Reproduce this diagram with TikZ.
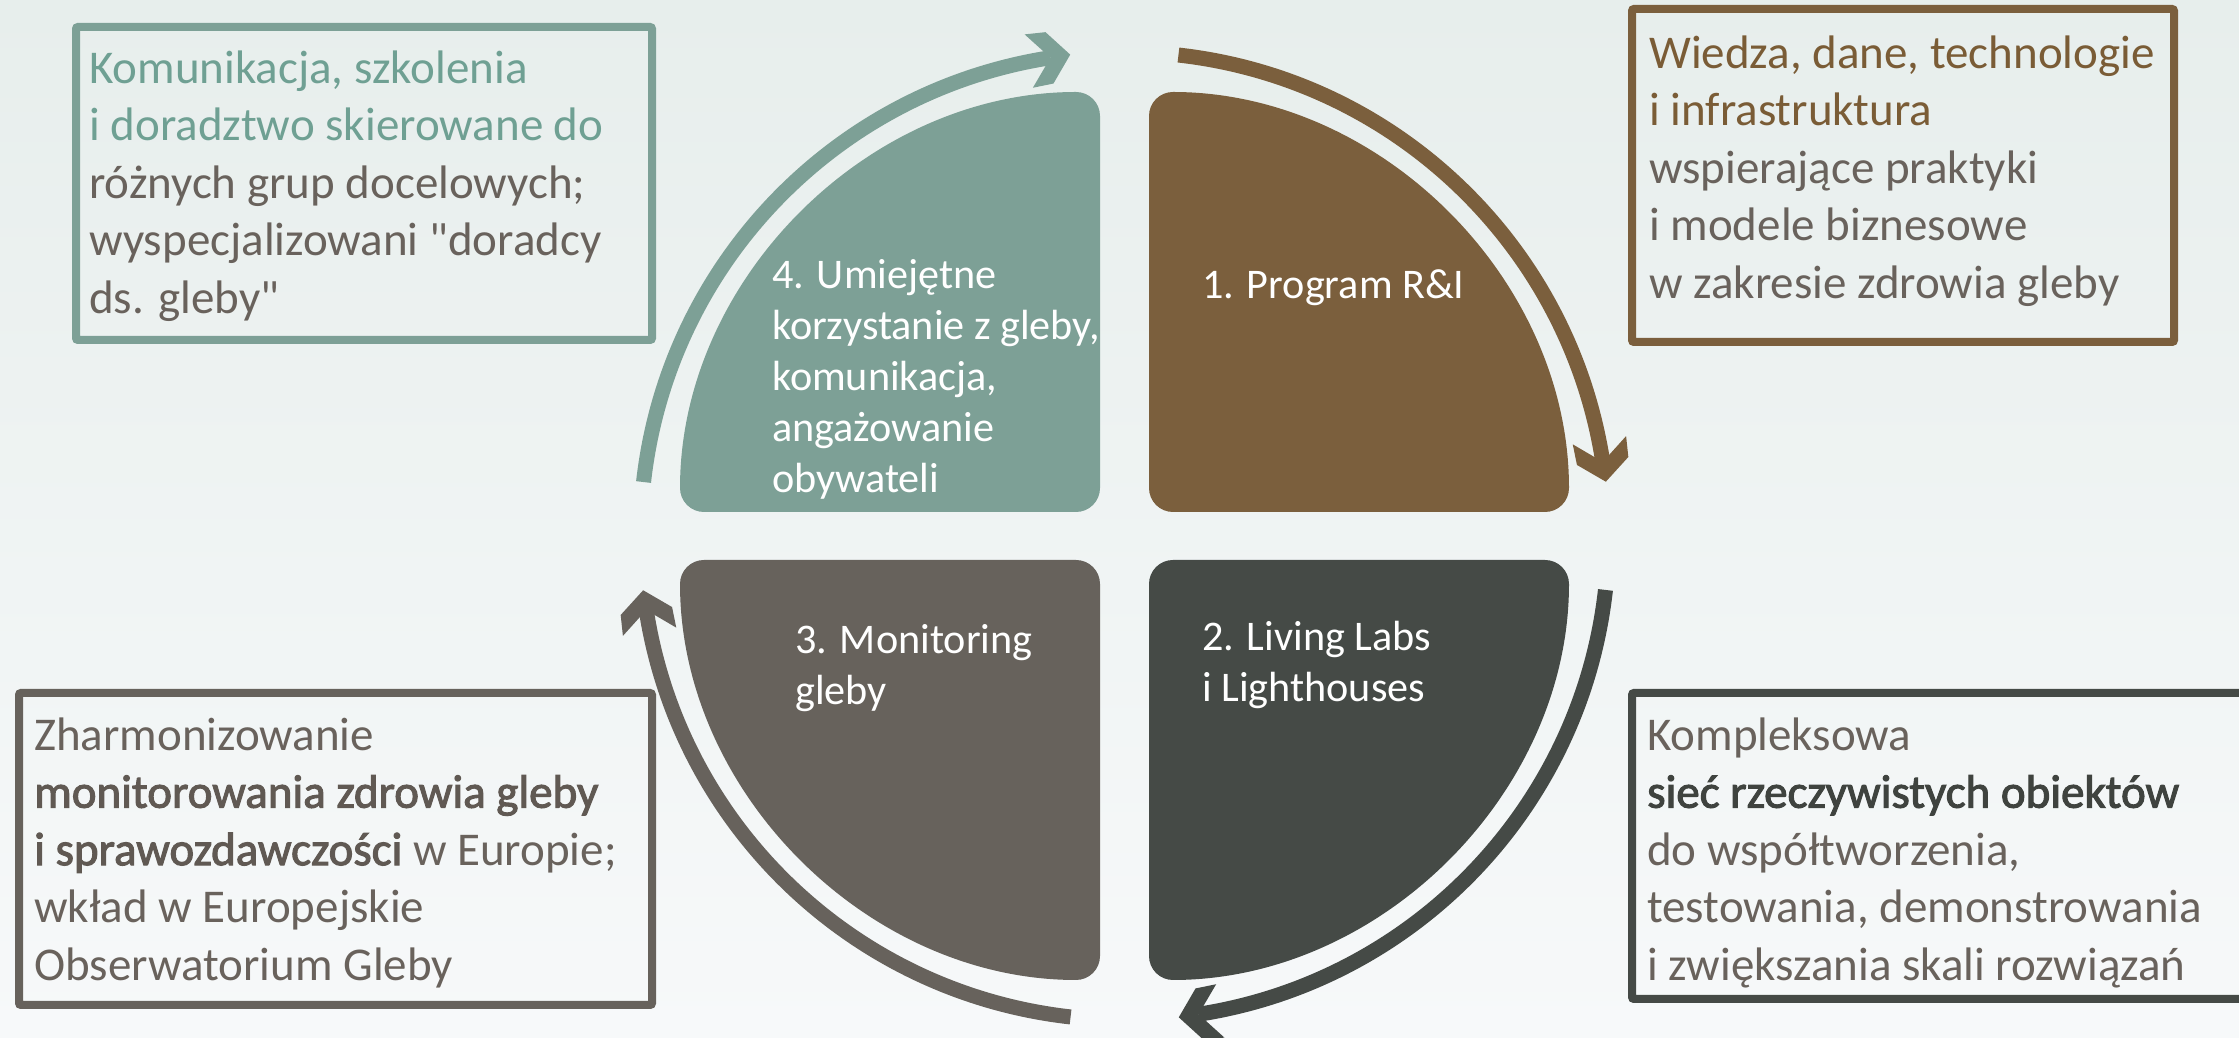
\documentclass[tikz,border=0pt]{standalone}
\usepackage{fontspec}
\setmainfont{Carlito}
\newfontfamily\qfont{Carlito}
\newfontfamily\fbold{Carlito}[FakeBold=2.2]
\usetikzlibrary{calc}
\definecolor{bgtop}{HTML}{E7EEEC}
\definecolor{bgbot}{HTML}{F7F9FA}
\definecolor{qteal}{HTML}{7DA096}
\definecolor{qbrown}{HTML}{7B5F3D}
\definecolor{qgray}{HTML}{67625C}
\definecolor{qdark}{HTML}{454A46}
\definecolor{tealtext}{HTML}{6FA093}
\definecolor{browntext}{HTML}{7A5C36}
\definecolor{greytext}{HTML}{69625C}
\definecolor{boldgrey}{HTML}{605953}
\definecolor{darktext}{HTML}{3F433F}
\newcommand{\sq}{{\qfont"}}
\tikzset{
  infobox/.style={draw, line width=8pt, rounded corners=2pt, inner sep=0pt, anchor=south west},
  boxtext/.style={anchor=north west, inner sep=0pt, align=left, text=greytext,
    font={\fontsize{47}{57.5}\selectfont}},
  quadtext/.style={anchor=north west, inner sep=0pt, align=left, text=white,
    font={\fontsize{42.2}{51}\selectfont}},
  quad/.style={rounded corners=24pt},
  shaft/.style={line width=15pt},
}
\begin{document}
\begin{tikzpicture}[x=1pt,y=1pt]
\useasboundingbox (0,0) rectangle (2239,1038);
\shade[top color=bgtop, bottom color=bgbot] (0,0) rectangle (2239,1038);

% quadrants
\fill[qteal, quad] (1100,526) -- (680,526) arc[start angle=180, end angle=90, radius=420] -- cycle;
\fill[qbrown, quad] (1149,526) -- (1149,946) arc[start angle=90, end angle=0, radius=420] -- cycle;
\fill[qgray, quad] (1100,478) -- (680,478) arc[start angle=180, end angle=270, radius=420] -- cycle;
\fill[qdark, quad] (1149,478) -- (1569,478) arc[start angle=0, end angle=-90, radius=420] -- cycle;

% circular arrows
\coordinate (C) at (1124.5,502);
\foreach \s/\e/\col/\nm in {173.6/98.8/qteal/a, 83.6/8.8/qbrown/b, -6.4/-81.2/qdark/c, -96.4/-171.2/qgray/d}{
  \draw[shaft, \col] ($(C)+(\s:484)$) coordinate (\nm s) arc[start angle=\s, end angle=\e, radius=484] coordinate (\nm e);
  \begin{scope}[shift={(\nm e)}, rotate=\e-90]
    \fill[\col] (20,0) -- (-1,26) -- (-22,27) -- (0,0) -- (-22,-27) -- (-1,-26) -- cycle;
  \end{scope}
}

% quadrant texts
\node[quadtext] (t4) at (772,785.7) {\strut 4. Umiejętne\\korzystanie z gleby,\\komunikacja,\\angażowanie\\obywateli};
\node[quadtext] (t1) at (1202,775.7) {\strut 1. Program R\&I};
\node[quadtext] (t3) at (795,420.7) {\strut 3. Monitoring\\gleby};
\node[quadtext] (t2) at (1202,423.7) {\strut 2. Living Labs\\i Lighthouses};

% info boxes
\node[infobox, draw=qteal, minimum width=576pt, minimum height=313pt] (bTL) at (72,694) {};
\node[infobox, draw=qbrown, minimum width=542pt, minimum height=333pt] (bTR) at (1628,692) {};
\node[infobox, draw=qgray, minimum width=633pt, minimum height=312pt] (bBL) at (15,29) {};
\node[infobox, draw=qdark, minimum width=640pt, minimum height=306pt] (bBR) at (1628,35) {};

\node[boxtext] (xTL) at (89,995.25) {\strut\textcolor{tealtext}{Komunikacja, szkolenia}\\\textcolor{tealtext}{i doradztwo skierowane do}\\różnych grup docelowych;\\wyspecjalizowani \sq doradcy\\ds. gleby\sq};
\node[boxtext] (xTR) at (1649,1010.25) {\strut\textcolor{browntext}{Wiedza, dane, technologie}\\\textcolor{browntext}{i infrastruktura}\\wspierające praktyki\\i modele biznesowe\\w zakresie zdrowia gleby};
\node[boxtext] (xBL) at (34,328.25) {\strut Zharmonizowanie\\\textcolor{boldgrey}{\fbold monitorowania zdrowia gleby}\\\textcolor{boldgrey}{\fbold i sprawozdawczości} w Europie;\\wkład w Europejskie\\Obserwatorium Gleby};
\node[boxtext] (xBR) at (1647,328.25) {\strut Kompleksowa\\\textcolor{darktext}{\fbold sieć rzeczywistych obiektów}\\do współtworzenia,\\testowania, demonstrowania\\i zwiększania skali rozwiązań};
\end{tikzpicture}
\end{document}
